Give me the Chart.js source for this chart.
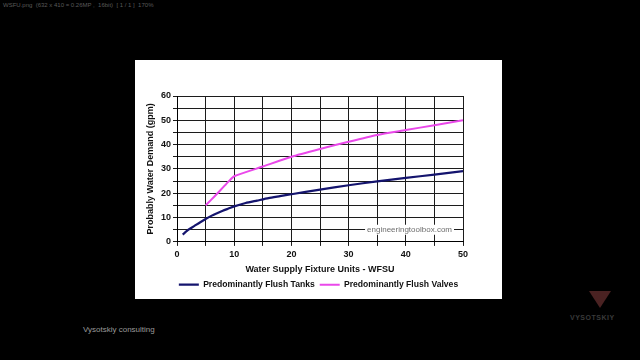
<!DOCTYPE html>
<html>
<head>
<meta charset="utf-8">
<script src="https://cdn.jsdelivr.net/npm/chart.js@4.4.1/dist/chart.umd.min.js"></script>
<style>
  html, body { margin: 0; padding: 0; background: #000; width: 640px; height: 360px; overflow: hidden; font-family: "Liberation Sans", Arial, sans-serif; }
  #top { position: absolute; left: 3px; top: 2px; font-size: 6px; color: #5a5a5a; white-space: pre; }
  #panel { position: absolute; left: 135px; top: 60px; width: 367px; height: 239px; background: #fff; }
  #brand { position: absolute; left: 83px; top: 325px; font-size: 8px; color: #9a9a9a; }
  #logo { position: absolute; left: 589px; top: 291px; width: 0; height: 0; border-left: 11px solid transparent; border-right: 11px solid transparent; border-top: 17px solid #4a2222; }
  #logotext { position: absolute; left: 570px; top: 314px; font-size: 7px; font-weight: bold; color: #3a3a3a; letter-spacing: 0.5px; }
</style>
</head>
<body>
<div id="top">WSFU.png  (632 x 410 = 0.26MP ,  16bit)  [ 1 / 1 ]  170%</div>
<div id="panel"><canvas id="chart" width="367" height="239"></canvas></div>
<div id="brand">Vysotskiy consulting</div>
<div id="logo"></div>
<div id="logotext">VYSOTSKIY</div>
<script>
// Water Supply Fixture Units (WFSU) and demand in gpm
const tankUnits  = [1, 2, 3, 4, 5, 6, 7, 8, 9, 10, 12, 14, 16, 18, 20, 25, 30, 35, 40, 45, 50];
const tankDemand = [3.0, 5.0, 6.5, 8.0, 9.4, 10.7, 11.8, 12.8, 13.7, 14.6, 16.0, 17.0, 18.0, 18.8, 19.6, 21.5, 23.3, 24.9, 26.3, 27.7, 29.1];

const valveUnits  = [5, 6, 7, 8, 9, 10, 15, 20, 25, 30, 35, 40, 45, 50];
const valveDemand = [15.0, 17.4, 19.8, 22.3, 24.8, 27.0, 31.0, 35.0, 38.2, 41.2, 44.0, 46.0, 48.0, 50.0];

const seriesNames = ['Predominantly Flush Tanks', 'Predominantly Flush Valves'];
const xTitle = 'Water Supply Fixture Units - WFSU';
const yTitle = 'Probably Water Demand (gpm)';
const watermark = 'engineeringtoolbox.com';

const toPoints = (xs, ys) => xs.map((x, i) => ({ x, y: ys[i] }));

const font = 'Liberation Sans';
const gridColor = '#1c1c1c';

// texto de marca de agua sobre la rejilla
const watermarkPlugin = {
  id: 'watermark',
  afterDraw: (chart) => {
    const ctx = chart.ctx;
    const { x, y } = chart.scales;
    ctx.save();
    ctx.font = '8px "' + font + '"';
    const w = ctx.measureText(watermark).width;
    const right = x.getPixelForValue(50) - 11;
    const cy = y.getPixelForValue(5);
    ctx.fillStyle = '#fff';
    ctx.fillRect(right - w - 2, cy - 5, w + 4, 10);
    ctx.fillStyle = '#6e6e6e';
    ctx.textBaseline = 'middle';
    ctx.textAlign = 'right';
    ctx.fillText(watermark, right, cy + 0.5);
    ctx.restore();
  }
};

new Chart(document.getElementById('chart'), {
  type: 'line',
  data: {
    datasets: [
      {
        label: seriesNames[0],
        data: toPoints(tankUnits, tankDemand),
        borderColor: '#14146e',
        backgroundColor: '#14146e',
        borderWidth: 2.2,
        pointRadius: 0,
        tension: 0.2
      },
      {
        label: seriesNames[1],
        data: toPoints(valveUnits, valveDemand),
        borderColor: '#ea48ea',
        backgroundColor: '#ea48ea',
        borderWidth: 2,
        pointRadius: 0,
        tension: 0.2
      }
    ]
  },
  options: {
    responsive: false,
    animation: false,
    layout: { padding: { top: 36, left: 0, right: 0, bottom: 0 } },
    plugins: {
      tooltip: { enabled: false },
      legend: {
        position: 'bottom',
        labels: {
          boxWidth: 20,
          boxHeight: 0,
          padding: 5,
          color: '#111',
          font: { family: font, size: 8.6, weight: 'bold' }
        }
      }
    },
    scales: {
      x: {
        type: 'linear',
        min: 0,
        max: 50,
        afterFit: (s) => { s.height = 33.5; },
        ticks: {
          stepSize: 5,
          autoSkip: false,
          maxRotation: 0,
          padding: 3,
          color: '#111',
          font: { family: font, size: 9, weight: 'bold' },
          callback: (v) => (v % 10 === 0 ? v : '')
        },
        grid: { color: gridColor, lineWidth: 1, tickLength: 4 },
        border: { color: '#000', width: 1 },
        title: {
          display: true,
          text: xTitle,
          color: '#111',
          padding: { top: 0, bottom: 0 },
          font: { family: font, size: 9, weight: 'bold' }
        }
      },
      y: {
        min: 0,
        max: 60,
        afterFit: (s) => { s.width = 42; },
        ticks: {
          stepSize: 5,
          autoSkip: false,
          padding: 2,
          color: '#111',
          font: { family: font, size: 9, weight: 'bold' },
          callback: (v) => (v % 10 === 0 ? v : '')
        },
        grid: { color: gridColor, lineWidth: 1, tickLength: 4 },
        border: { color: '#000', width: 1 },
        title: {
          display: true,
          text: yTitle,
          color: '#111',
          padding: { top: 10, bottom: 0 },
          font: { family: font, size: 9, weight: 'bold' }
        }
      },
      spacer: {
        type: 'linear',
        position: 'right',
        afterFit: (s) => { s.width = 39; },
        ticks: { display: false },
        grid: { display: false, drawTicks: false },
        border: { display: false }
      }
    }
  },
  plugins: [watermarkPlugin]
});
</script>
</body>
</html>
